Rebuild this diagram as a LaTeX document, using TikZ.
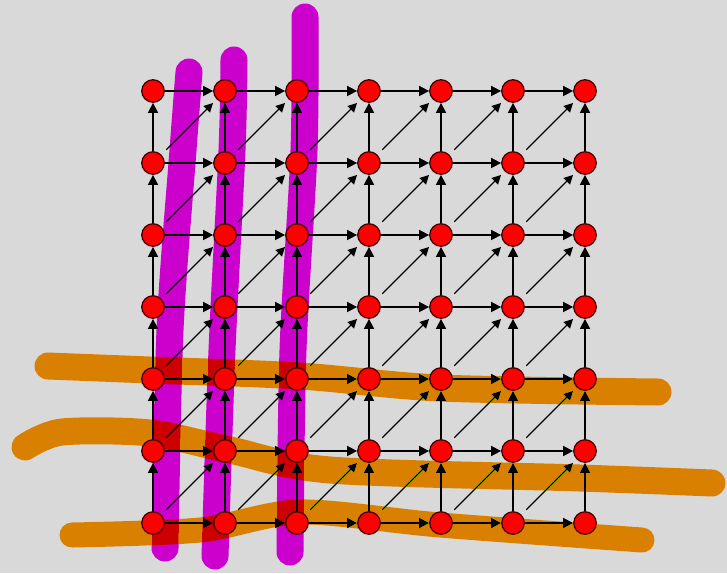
\documentclass[tikz,border=0pt]{standalone}
\usetikzlibrary{arrows.meta}
\definecolor{paper}{RGB}{217,217,217}
\definecolor{penpurple}{RGB}{204,0,204}
\definecolor{penorange}{RGB}{217,128,0}
\definecolor{vertexrim}{RGB}{70,0,0}
\pgfdeclarelayer{wires}
\pgfdeclarelayer{ink}
\pgfsetlayers{wires,ink,main}
\begin{document}
\begin{tikzpicture}[x=1pt,y=-1pt,
  vertex/.style={circle,fill=red,draw=vertexrim,line width=1.3pt,minimum size=22.5pt,inner sep=0pt},
  edge/.style={line width=1.6pt,-{Triangle[length=10pt,width=10pt]}},
  diag/.style={line width=1.2pt,-{Triangle[length=9pt,width=9pt]},shorten <=7pt,shorten >=5pt},
  purplestroke/.style={draw=penpurple,line width=27pt,line cap=round,line join=round},
  orangestroke/.style={draw=penorange,line width=27pt,line cap=round,line join=round}]
\useasboundingbox (0,0) rectangle (727,573);

% 7x7 grid of vertices: column \i, row \j (row 0 at the top)
\foreach \i in {0,...,6}
  \foreach \j in {0,...,6}
    \node[vertex] (v\i\j) at ({153+72*\i},{91+72*\j}) {};

\begin{pgfonlayer}{wires}
  \fill[paper] (0,0) rectangle (727,573);
  \foreach \i in {0,...,6}
    \foreach \j in {0,...,6}{
      \pgfmathtruncatemacro\ni{\i+1}
      \pgfmathtruncatemacro\nj{\j+1}
      % horizontal edge, pointing right
      \ifnum\i<6 \draw[edge] (v\i\j) -- (v\ni\j); \fi
      % vertical edge, pointing up
      \ifnum\j<6 \draw[edge] (v\i\nj) -- (v\i\j); \fi
      % diagonal edge, pointing up-right
      \ifnum\i<6 \ifnum\j<6 \draw[diag] (v\i\nj) -- (v\ni\j); \fi\fi
    }
\end{pgfonlayer}

\begin{pgfonlayer}{ink}
  \begin{scope}[blend mode=darken]
    % marker strokes down the first three columns
    \draw[purplestroke] plot[smooth] coordinates {(189,72) (183,150) (170,330) (165,548)};
    \draw[purplestroke] plot[smooth] coordinates {(234,60) (232,150) (222,350) (215,556)};
    \draw[purplestroke] plot[smooth] coordinates {(305,17) (304,150) (293,350) (290,552)};
    % marker strokes across the last three rows
    \draw[orangestroke] plot[smooth] coordinates {(48,366) (150,370) (300,376) (440,388) (658,392)};
    \draw[orangestroke] plot[smooth] coordinates {(25,447) (62,432) (150,433) (230,450) (330,470) (580,478) (712,483)};
    \draw[orangestroke,line width=25pt] plot[smooth] coordinates {(72,535) (200,530) (300,512) (440,525) (642,540)};
  \end{scope}
\end{pgfonlayer}
\end{tikzpicture}
\end{document}
